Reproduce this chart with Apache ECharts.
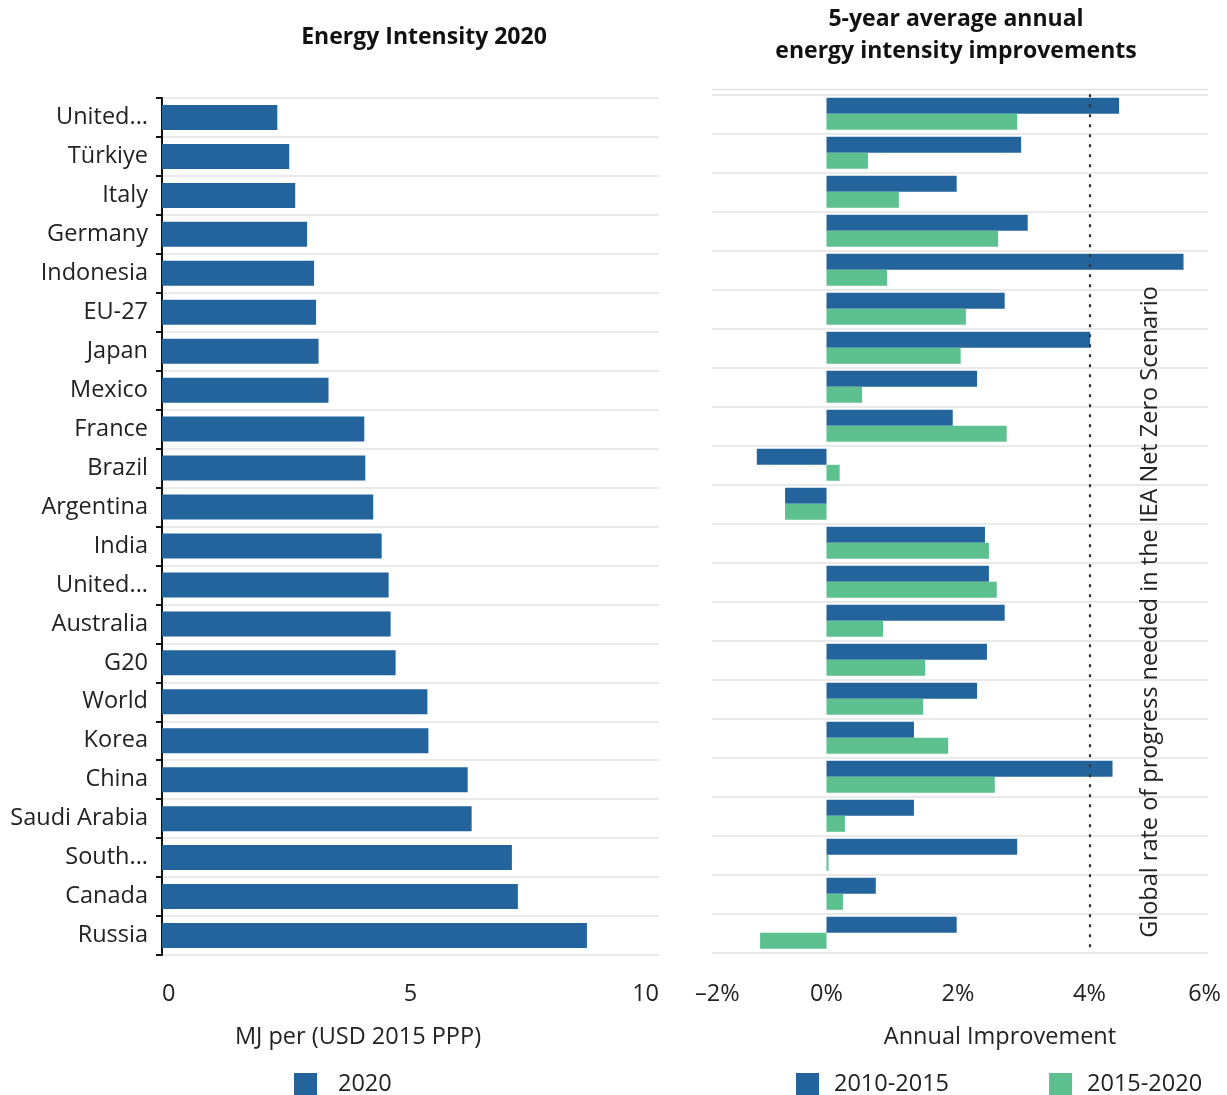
<!DOCTYPE html>
<html><head><meta charset="utf-8">
<script src="https://cdn.jsdelivr.net/npm/echarts@6/dist/echarts.min.js"></script>
<style>html,body{margin:0;padding:0;background:#fff}#c{width:1227px;height:1095px}</style>
</head><body><div id="c"></div>
<script>
const categories = ["United...","Türkiye","Italy","Germany","Indonesia","EU-27","Japan","Mexico","France","Brazil","Argentina","India","United...","Australia","G20","World","Korea","China","Saudi Arabia","South...","Canada","Russia"];
const intensity2020 = [2.32,2.56,2.68,2.92,3.06,3.10,3.15,3.35,4.07,4.09,4.25,4.42,4.56,4.60,4.70,5.34,5.36,6.15,6.23,7.04,7.16,8.55];
const improvement2010_2015 = [4.45,2.96,1.98,3.06,5.43,2.71,4.01,2.29,1.92,-1.06,-0.63,2.41,2.47,2.71,2.44,2.29,1.33,4.35,1.33,2.90,0.75,1.98];
const improvement2015_2020 = [2.90,0.63,1.10,2.61,0.92,2.12,2.04,0.54,2.74,0.20,-0.63,2.47,2.59,0.86,1.50,1.47,1.85,2.56,0.28,0.03,0.25,-1.01];
const leftTicks = [0,5,10];
const rightTicks = [-2,0,2,4,6];
const nzeRate = 4;

const FONT = 'Open Sans';
const FS = 23.5;
const BLUE = '#22649b';
const GREEN = '#5dc08f';
const chart = echarts.init(document.getElementById('c'), null, {renderer:'canvas'});
chart.setOption({
  backgroundColor:'#fff',
  textStyle:{fontFamily:FONT},
  animation:false,
  title:[
    {text:'Energy Intensity 2020', left:424, top:26, padding:0, textAlign:'center', textStyle:{fontFamily:FONT,fontSize:23,fontWeight:'bold',color:'#111'}},
    {text:'5-year average annual\nenergy intensity improvements', left:956, top:3, padding:0, textAlign:'center', textStyle:{fontFamily:FONT,fontSize:23,fontWeight:'bold',color:'#111',lineHeight:32}},
    {text:'MJ per (USD 2015 PPP)', left:358, top:1025, padding:0, textAlign:'center', textStyle:{fontFamily:FONT,fontSize:FS,fontWeight:'normal',color:'#222'}},
    {text:'Annual Improvement', left:1000, top:1025, padding:0, textAlign:'center', textStyle:{fontFamily:FONT,fontSize:FS,fontWeight:'normal',color:'#222'}}
  ],
  legend:[
    {data:['2020'], left:294, top:1072, padding:0, itemWidth:23, itemHeight:22, icon:'rect', itemGap:20, textStyle:{fontFamily:FONT,fontSize:FS,color:'#222',padding:[0,0,0,16]}},
    {data:['2010-2015','2015-2020'], left:796, top:1072, padding:0, itemWidth:23, itemHeight:22, icon:'rect', itemGap:100, textStyle:{fontFamily:FONT,fontSize:FS,color:'#222',padding:[0,0,0,10]}}
  ],
  grid:[
    {left:162, right:568, top:98, bottom:140},
    {left:695, right:6, top:94.3, bottom:142.7},
    {left:712, right:19, top:94.3, bottom:142.7}
  ],
  xAxis:[
    {gridIndex:0, type:'value', min:leftTicks[0], max:leftTicks[leftTicks.length-1], interval:5,
     axisLine:{show:false}, axisTick:{show:false}, splitLine:{show:false},
     axisLabel:{fontFamily:FONT,fontSize:FS,color:'#222',margin:27, alignMinLabel:'left', alignMaxLabel:'right'}},
    {gridIndex:1, type:'value', min:rightTicks[0], max:rightTicks[rightTicks.length-1], interval:2,
     axisLine:{show:false}, axisTick:{show:false}, splitLine:{show:false},
     axisLabel:{fontFamily:FONT,fontSize:FS,color:'#222',margin:30, alignMinLabel:'left', alignMaxLabel:'right',
       formatter:v => (v<0?'\u2013'+Math.abs(v):v)+'%'}},
    {gridIndex:2, type:'value', show:false, min:0, max:1}
  ],
  yAxis:[
    {gridIndex:0, type:'category', data:categories, inverse:true,
     axisLine:{show:true, lineStyle:{color:'#111',width:2}},
     axisTick:{show:true, length:6, lineStyle:{color:'#111',width:2}},
     splitLine:{show:true, lineStyle:{color:'#e3e3e3',width:1.5}},
     axisLabel:{fontFamily:FONT,fontSize:FS,color:'#222',margin:14,padding:[4,0,0,0]}},
    {gridIndex:1, type:'category', data:categories, inverse:true,
     axisLine:{show:false}, axisTick:{show:false}, axisLabel:{show:false}, splitLine:{show:false}},
    {gridIndex:2, type:'category', data:categories, inverse:true,
     axisLine:{show:false}, axisTick:{show:false}, axisLabel:{show:false},
     splitLine:{show:true, lineStyle:{color:'#e3e3e3',width:1.5}}}
  ],
  graphic:[
    {type:'line', shape:{x1:712,y1:89.5,x2:1208,y2:89.5}, style:{stroke:'#e3e3e3',lineWidth:1.5}, z:0},
    {type:'text', x:1150, y:612, rotation:Math.PI/2,
     style:{text:'Global rate of progress needed in the IEA Net Zero Scenario', fontFamily:FONT, fontSize:FS, fill:'#222', textAlign:'center', textVerticalAlign:'middle'}, z:10}
  ],
  series:[
    {name:'2020', type:'bar', xAxisIndex:0, yAxisIndex:0, data:intensity2020, barWidth:25, itemStyle:{color:BLUE}},
    {name:'2010-2015', type:'bar', xAxisIndex:1, yAxisIndex:1, data:improvement2010_2015, barWidth:16, barGap:'0%', itemStyle:{color:BLUE},
     markLine:{silent:true, symbol:'none', label:{show:false}, lineStyle:{color:'#333',width:2.2,type:[3,7]}, data:[{xAxis:nzeRate}]}},
    {name:'2015-2020', type:'bar', xAxisIndex:1, yAxisIndex:1, data:improvement2015_2020, barWidth:16, barGap:'0%', itemStyle:{color:GREEN}}
  ]
});
</script></body></html>
